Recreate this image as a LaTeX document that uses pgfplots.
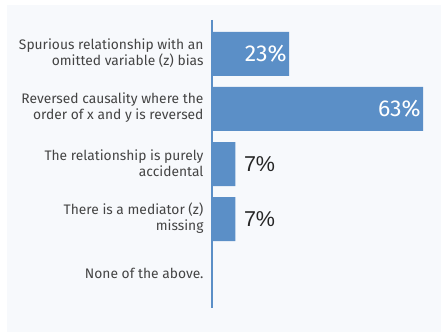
\documentclass[border=0pt]{standalone}
\usepackage{pgfplots}
\pgfplotsset{compat=1.18}
\usepackage{fontspec}
\setmainfont{Fira Sans}
\newfontfamily\arialfont{Liberation Sans}
\definecolor{barblue}{RGB}{91,143,199}
\definecolor{bgpanel}{RGB}{247,249,252}
\definecolor{labelgray}{RGB}{68,68,68}
\begin{document}
\begin{tikzpicture}[x=1pt,y=1pt]
\path[use as bounding box] (0,0) rectangle (441,333);
\fill[bgpanel] (7,1) rectangle (441,328);
\begin{axis}[
  at={(212pt,25pt)}, anchor=south west,
  scale only axis, width=228pt, height=288pt,
  xmin=0, xmax=68, ymin=-0.618, ymax=4.618, y dir=reverse,
  xbar, bar width=0.8,
  every axis plot post/.append style={bar shift=0pt},
  hide x axis,
  axis y line*=left,
  y axis line style={draw=barblue, line width=2pt},
  major tick length=0pt,
  ytick={0,1,2,3,4},
  yticklabels={{Spurious relationship with an\\omitted variable (z) bias},
               {Reversed causality where the\\order of x and y is reversed},
               {The relationship is purely\\accidental},
               {There is a mediator (z)\\missing},
               {None of the above.}},
  yticklabel style={align=right, font=\fontsize{13.8}{16}\selectfont, text=labelgray, xshift=-5pt, yshift=1pt},
  /pgf/number format/assume math mode=true,
  clip=false,
]
\addplot[draw=none, fill=barblue,
  nodes near coords={\pgfmathprintnumber[assume math mode=true]{\pgfplotspointmeta}\%},
  nodes near coords style={anchor=east, text=white, font=\fontsize{23}{26}\selectfont, xshift=1pt}]
  coordinates {(23,0) (63,1)};
\addplot[draw=none, fill=barblue,
  nodes near coords={\pgfmathprintnumber[assume math mode=true]{\pgfplotspointmeta}\%},
  nodes near coords style={anchor=west, text=black!85, font=\arialfont\fontsize{21.5}{24}\selectfont, xshift=5pt}]
  coordinates {(7,2) (7,3)};
\end{axis}
\end{tikzpicture}
\end{document}
